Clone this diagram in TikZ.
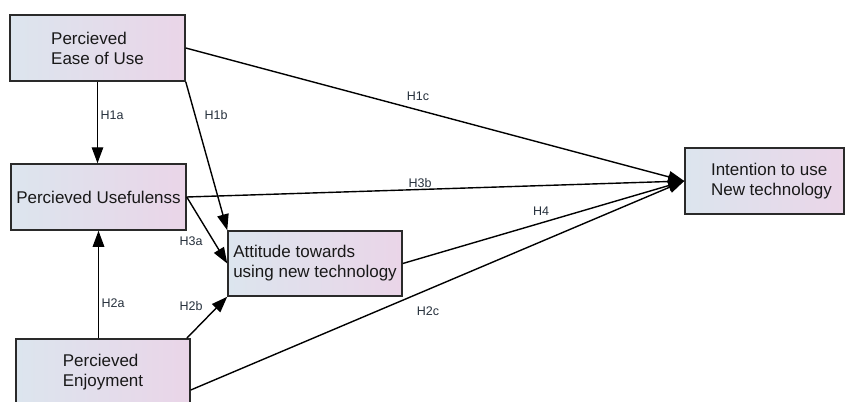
\documentclass[tikz,border=0pt]{standalone}
\usepackage{fontspec}
\setmainfont{Liberation Sans}
\usetikzlibrary{arrows.meta,calc}
\definecolor{boxleft}{HTML}{DCE5EE}
\definecolor{boxright}{HTML}{EAD5E8}
\definecolor{boxline}{HTML}{2A2A2A}
\definecolor{lbl}{HTML}{26303C}
\tikzset{
  construct/.style={draw=boxline, line width=1.5pt, left color=boxleft, right color=boxright,
    inner sep=0pt, align=left, font=\fontsize{17}{20}\selectfont, text=black!90},
  path/.style={line width=1.4pt, draw=black, -{Triangle[length=16pt,width=11.5pt]}},
  hyp/.style={font=\fontsize{12.5}{14}\selectfont, text=lbl, inner sep=1pt}
}
\begin{document}
\begin{tikzpicture}[x=1pt,y=-1pt]
\useasboundingbox (0,0) rectangle (847,402);
\begin{scope}
\clip (0,0) rectangle (847,402);
\node[construct, minimum width=175pt, minimum height=66pt] (peou) at (97.5,48) {Percieved\\Ease of Use};
\node[construct, minimum width=175pt, minimum height=66pt] (pu) at (98.5,197) {Percieved Usefulenss};
\node[construct, minimum width=174pt, minimum height=65pt] (att) at (315,263.5) {Attitude towards\\using new technology};
\node[construct, minimum width=174pt, minimum height=66pt] (enj) at (103,372) {Percieved\\Enjoyment};
\node[construct, minimum width=159pt, minimum height=66pt] (int) at (764.5,181) {\hspace*{14pt}Intention to use\\\hspace*{14pt}New technology};
\coordinate (enjout) at ($(enj.east)+(0,18)$);

\draw[path] (peou.south) -- (peou.south |- pu.north);
\draw[path] (peou.south east) -- (att.north west);
\draw[path] (peou.east) -- (int.west);
\draw[path] (pu.east) -- (int.west);
\draw[path] (pu.east) -- (att.west);
\draw[path] (att.east) -- (int.west);
\draw[path] (pu.south |- enj.north) -- (pu.south);
\draw[path] ($(enj.north east)+(-4,0)$) -- (att.south west);
\draw[path] (enjout) -- (int.west);
\end{scope}

\node[hyp] (h1a) at (112,115) {H1a};
\node[hyp] (h1b) at (216,115) {H1b};
\node[hyp] (h1c) at (418,96) {H1c};
\node[hyp] (h3b) at (420,183) {H3b};
\node[hyp] (h3a) at (191,241) {H3a};
\node[hyp] (h4) at (541,211) {H4};
\node[hyp] (h2a) at (113,303) {H2a};
\node[hyp] (h2b) at (191,306) {H2b};
\node[hyp] (h2c) at (428,311) {H2c};
\end{tikzpicture}
\end{document}
